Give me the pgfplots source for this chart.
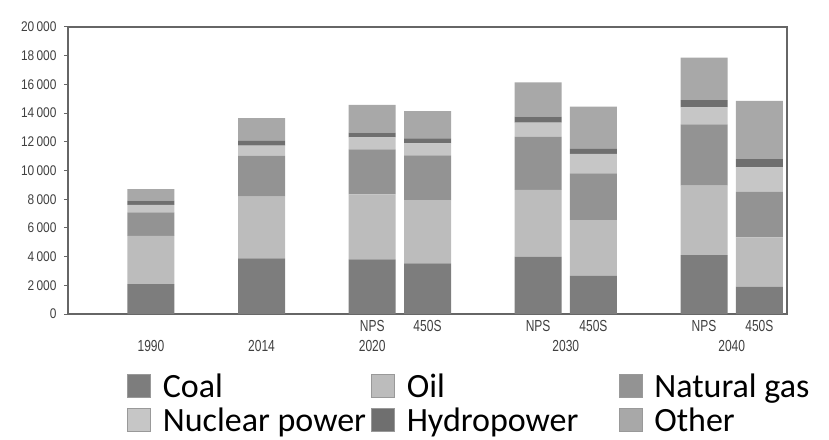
\documentclass[border=0pt]{standalone}
\usepackage{pgfplots}
\pgfplotsset{compat=1.18}
\usepackage{pgfplotstable}
\usepackage{fontspec}
\setmainfont{Liberation Sans}
\newfontfamily\yfont[FakeStretch=0.85]{Liberation Sans}
\newfontfamily\xfont[FakeStretch=0.75]{Liberation Sans}
\newfontfamily\legendfont{Carlito}

\definecolor{coal}{HTML}{7D7D7D}
\definecolor{oil}{HTML}{BCBCBC}
\definecolor{gas}{HTML}{939393}
\definecolor{nuclear}{HTML}{C6C6C6}
\definecolor{hydro}{HTML}{6F6F6F}
\definecolor{other}{HTML}{A8A8A8}

% electricity generation by source, bars at x = 1.5, 3.5, ...
\pgfplotstableread{
x    coal oil  gas  nuclear hydro other
1.5  2090 3350 1650 510     300   810
3.5  3880 4300 2860 700     330   1580
5.5  3810 4530 3135 835     326   1930
6.5  3530 4410 3110 840     350   1900
8.5  3995 4650 3715 975     420   2390
9.5  2650 3900 3250 1350    350   2950
11.5 4110 4830 4275 1185    510   2950
12.5 1905 3440 3180 1700    560   4065
}\energy

\begin{document}
\begin{tikzpicture}
\begin{axis}[
    scale only axis,
    width=719pt, height=287pt,
    xmin=0, xmax=13,
    ymin=0, ymax=20000,
    ybar stacked,
    bar width=47pt,
    axis line style={draw=black!60, line width=1.4pt},
    ytick={0,2000,...,20000},
    ytick pos=left,
    tick align=outside,
    major tick length=4pt,
    y tick style={draw=black!60, line width=1pt},
    /pgf/number format/assume math mode=true,
    y tick label style={font=\yfont\fontsize{14}{16}\selectfont, text=black!75,
      xshift=-4pt, /pgf/number format/1000 sep={\,}},
    scaled y ticks=false,
    xtick={1.5,3.5,5.5,6.5,8.5,9.5,11.5,12.5},
    xticklabels={{\vphantom{NPS}\\1990},{\vphantom{NPS}\\2014},{NPS\\2020},450S,NPS,450S,NPS,450S},
    extra x ticks={9,12},
    extra x tick labels={{\vphantom{NPS}\\2030},{\vphantom{NPS}\\2040}},
    x tick style={draw=none},
    extra x tick style={x tick style={draw=none}},
    x tick label style={font=\xfont\fontsize{16}{20}\selectfont, text=black!75,
      align=center, yshift=1pt},
    legend columns=3,
    legend cell align=left,
    legend style={at={(0.0821,-0.1986)}, anchor=north west, draw=none, fill=none,
      inner sep=0pt, outer sep=0pt,
      font=\legendfont\fontsize{34}{40}\selectfont,
      nodes={inner ysep=0pt, inner xsep=2pt, text height=26pt, text depth=8pt},
      /tikz/every odd column/.append style={column sep=10pt},
      /tikz/column 2/.append style={column sep=3pt},
      /tikz/column 4/.append style={column sep=38pt}},
    legend image code/.code={
      \fill[#1, draw=black!40, line width=0.8pt] (0pt,-9pt) rectangle (23pt,14pt);},
  ]
  \addplot[fill=coal, draw=none] table[x=x, y=coal] {\energy};
  \addlegendentry{Coal}
  \addplot[fill=oil, draw=none] table[x=x, y=oil] {\energy};
  \addlegendentry{Oil}
  \addplot[fill=gas, draw=none] table[x=x, y=gas] {\energy};
  \addlegendentry{Natural gas}
  \addplot[fill=nuclear, draw=none] table[x=x, y=nuclear] {\energy};
  \addlegendentry{Nuclear power}
  \addplot[fill=hydro, draw=none] table[x=x, y=hydro] {\energy};
  \addlegendentry{Hydropower}
  \addplot[fill=other, draw=none] table[x=x, y=other] {\energy};
  \addlegendentry{Other}
\end{axis}
\pgfresetboundingbox
\path (current axis.south west) ++(-68pt,-125pt) rectangle ++(829pt,439pt);
\end{tikzpicture}
\end{document}
